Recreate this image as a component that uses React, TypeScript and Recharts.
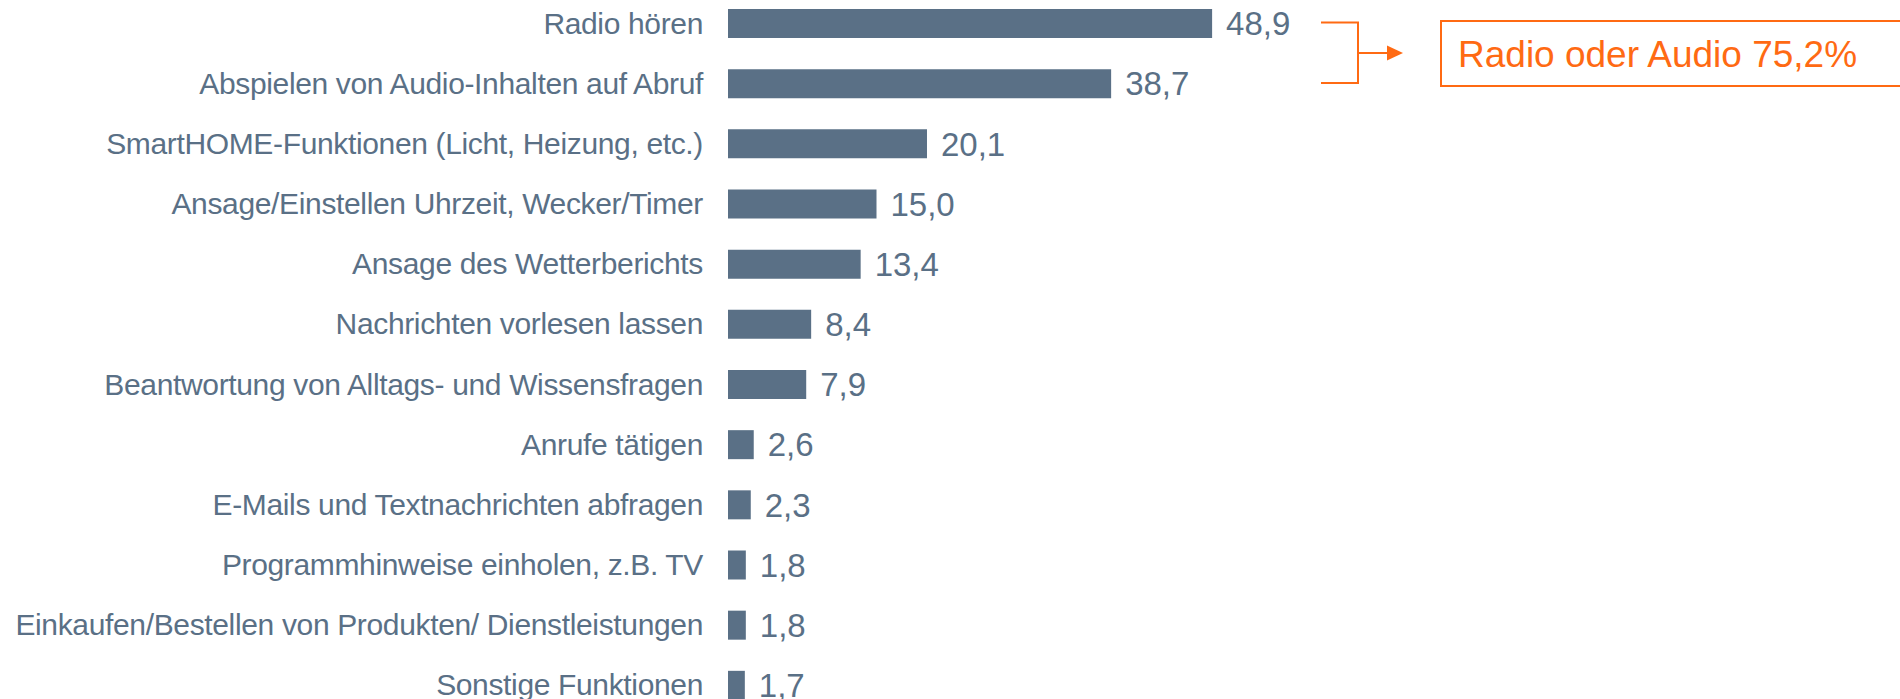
import React from 'react';
import { BarChart, Bar, XAxis, YAxis, LabelList } from 'recharts';

const categories = [
    'Radio hören',
    'Abspielen von Audio-Inhalten auf Abruf',
    'SmartHOME-Funktionen (Licht, Heizung, etc.)',
    'Ansage/Einstellen Uhrzeit, Wecker/Timer',
    'Ansage des Wetterberichts',
    'Nachrichten vorlesen lassen',
    'Beantwortung von Alltags- und Wissensfragen',
    'Anrufe tätigen',
    'E-Mails und Textnachrichten abfragen',
    'Programmhinweise einholen, z.B. TV',
    'Einkaufen/Bestellen von Produkten/ Dienstleistungen',
    'Sonstige Funktionen',
];
const values = [48.9, 38.7, 20.1, 15.0, 13.4, 8.4, 7.9, 2.6, 2.3, 1.8, 1.8, 1.7];
const calloutText = 'Radio oder Audio 75,2%';

const BAR = '#5a7086';
const ORANGE = '#ff6a13';
const FONT = '"Liberation Sans", Arial, sans-serif';

const data = categories.map((name, i) => ({ name, value: values[i] }));

const CategoryTick = (props: any) => {
    const { x, y, payload } = props;
    return (
        <text
            x={x}
            y={y}
            textAnchor="end"
            dominantBaseline="central"
            fill={BAR}
            fontSize={30}
            letterSpacing={-0.35}
            fontFamily={FONT}
        >
            {payload.value}
        </text>
    );
};

const App = () => {
    return (
        <div style={{ position: 'absolute', left: 0, top: 0, width: 1900, height: 699, overflow: 'hidden', background: '#fff' }}>
            <div style={{ position: 'absolute', left: 0, top: -7 }}>
                <BarChart
                    width={1900}
                    height={722}
                    data={data}
                    layout="vertical"
                    margin={{ top: 0, right: 182, left: 0, bottom: 0 }}
                >
                    <XAxis type="number" domain={[0, 100]} hide />
                    <YAxis
                        type="category"
                        dataKey="name"
                        width={728}
                        axisLine={false}
                        tickLine={false}
                        tickSize={0}
                        tickMargin={25}
                        interval={0}
                        tick={<CategoryTick />}
                    />
                    <Bar dataKey="value" fill={BAR} barSize={29} isAnimationActive={false}>
                        <LabelList
                            dataKey="value"
                            position="right"
                            offset={14}
                            formatter={(v: any) => Number(v).toFixed(1).replace('.', ',')}
                            style={{ fill: BAR, fontSize: 33, fontFamily: FONT }}
                        />
                    </Bar>
                </BarChart>
            </div>
            {/* callout: bracket over the first two bars, arrow, box */}
            <svg width={1900} height={699} style={{ position: 'absolute', left: 0, top: 0, pointerEvents: 'none' }}>
                <path d="M1321,22.5 H1358 V83 H1321" fill="none" stroke={ORANGE} strokeWidth={2} />
                <line x1={1358} y1={53} x2={1390} y2={53} stroke={ORANGE} strokeWidth={2} />
                <polygon points="1387,45.5 1403,53 1387,60.5" fill={ORANGE} />
                <rect x={1441} y={21} width={470} height={65} fill="none" stroke={ORANGE} strokeWidth={2} />
                <text x={1458} y={54} dominantBaseline="central" fill={ORANGE} fontSize={37} fontFamily={FONT}>
                    {calloutText}
                </text>
            </svg>
        </div>
    );
};

export default App;
